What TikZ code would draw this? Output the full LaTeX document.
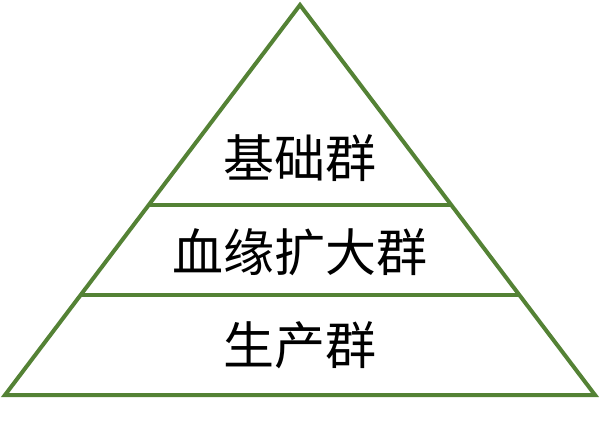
\documentclass[tikz,border=0pt]{standalone}
\usepackage{fontspec}
\usetikzlibrary{calc}
\newfontfamily\cjk{Noto Sans CJK SC}
\definecolor{pyrgreen}{RGB}{84,130,53}
\tikzset{
  edge/.style={draw=pyrgreen, line width=4pt},
  label/.style={font=\cjk\fontsize{51}{56}\selectfont, text=black, inner sep=0pt, anchor=center}
}
\begin{document}
\begin{tikzpicture}[x=1pt,y=-1pt]
\useasboundingbox (0,0) rectangle (600,430);
\coordinate (apex) at (300,5);
\coordinate (bl) at (5,395);
\coordinate (br) at (595,395);
\coordinate (l1) at ($(apex)!0.5141!(bl)$);
\coordinate (r1) at ($(apex)!0.5141!(br)$);
\coordinate (l2) at ($(apex)!0.7442!(bl)$);
\coordinate (r2) at ($(apex)!0.7442!(br)$);
\draw[edge, line join=miter] (apex) -- (bl) -- (br) -- cycle;
\draw[edge] (l1) -- (r1);
\draw[edge] (l2) -- (r2);
\node[label] (t1) at (300,158) {基础群};
\node[label] (t2) at (300,252) {血缘扩大群};
\node[label] (t3) at (300,345) {生产群};
\end{tikzpicture}
\end{document}
